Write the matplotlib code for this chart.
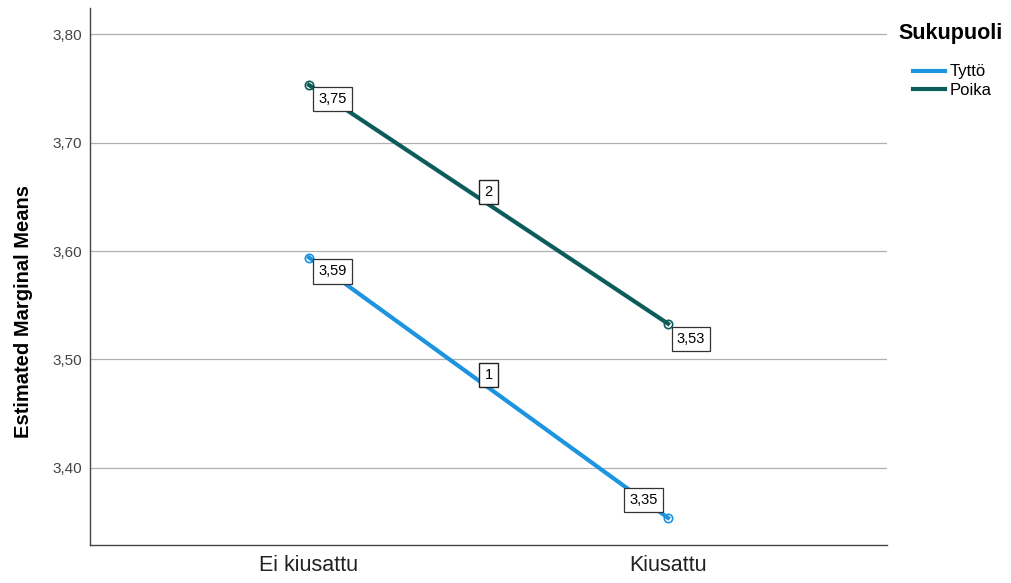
import numpy as np
import matplotlib.pyplot as plt
from matplotlib.lines import Line2D

plt.rcParams['font.family'] = ['Liberation Sans', 'DejaVu Sans']

# data
kategoriat = ['Ei kiusattu', 'Kiusattu']
tytto = [3.594, 3.354]
poika = [3.753, 3.533]
tytto_labels = ['3,59', '3,35']
poika_labels = ['3,75', '3,53']
sarjat = ['Tyttö', 'Poika']
varit = ['#1c94e0', '#0b5c5a']

fig = plt.figure(figsize=(10.11, 5.83), dpi=100)
ax = fig.add_axes([90 / 1011, 38 / 583, 797 / 1011, 537 / 583])

x = np.arange(len(kategoriat))
box = dict(boxstyle='square,pad=0.35', fc='white', ec='#333333', lw=0.9)
box_nro = dict(boxstyle='square,pad=0.35', fc='white', ec='#222222', lw=1.0)

# offsetit pisteistä (points)
offsetit = {
    '1': [(17, -10), (-17.5, 13)],
    '2': [(17, -10), (16.5, -11)],
}

for nimi, arvot, tekstit, vari, nro in [
        (sarjat[0], tytto, tytto_labels, varit[0], '1'),
        (sarjat[1], poika, poika_labels, varit[1], '2')]:
    ax.plot(x, arvot, color=vari, lw=3, label=nimi, zorder=3)
    ax.plot(x, arvot, 'o', ms=6, mfc='none', mec=vari, mew=1.2, zorder=4)
    for i in range(len(x)):
        ax.annotate(tekstit[i], (x[i], arvot[i]), xytext=offsetit[nro][i], textcoords='offset points',
                    ha='center', va='center', fontsize=10.5, bbox=box, zorder=5)
    ax.annotate(nro, (np.mean(x), np.mean(arvot)), xytext=(0, 9), textcoords='offset points',
                ha='center', va='center', fontsize=10.5, bbox=box_nro, zorder=5)

ax.set_xlim(-0.61, 1.61)
ax.set_ylim(3.329, 3.824)
ax.set_xticks(x)
ax.set_xticklabels(kategoriat, fontsize=15.5, color='#222222')
ax.set_yticks([3.4, 3.5, 3.6, 3.7, 3.8])
ax.set_yticklabels(['3,40', '3,50', '3,60', '3,70', '3,80'], fontsize=11, color='#444444')
ax.tick_params(axis='y', length=0, pad=6)
ax.tick_params(axis='x', length=0, pad=7)
ax.yaxis.grid(True, color='#b0b0b0', lw=0.9)
ax.set_axisbelow(True)
for s in ['top', 'right']:
    ax.spines[s].set_visible(False)
for s in ['left', 'bottom']:
    ax.spines[s].set_color('#444444')
    ax.spines[s].set_linewidth(1)
ax.set_ylabel('Estimated Marginal Means', fontsize=14.5, fontweight='bold')
ax.yaxis.set_label_coords(-0.072, 0.434)

# legend
fig.text(898 / 1011, 1 - 33 / 583, 'Sukupuoli', fontsize=15.5, fontweight='bold',
         ha='left', va='center')
kahvat = [Line2D([], [], color=c, lw=3) for c in varit]
fig.legend(kahvat, sarjat, loc='upper left', bbox_to_anchor=(900 / 1011, 1 - 51 / 583),
           frameon=False, fontsize=12, handlelength=1.9, handletextpad=0.3,
           labelspacing=0.2, borderpad=0.3)

fig.savefig('out.png', dpi=100)
